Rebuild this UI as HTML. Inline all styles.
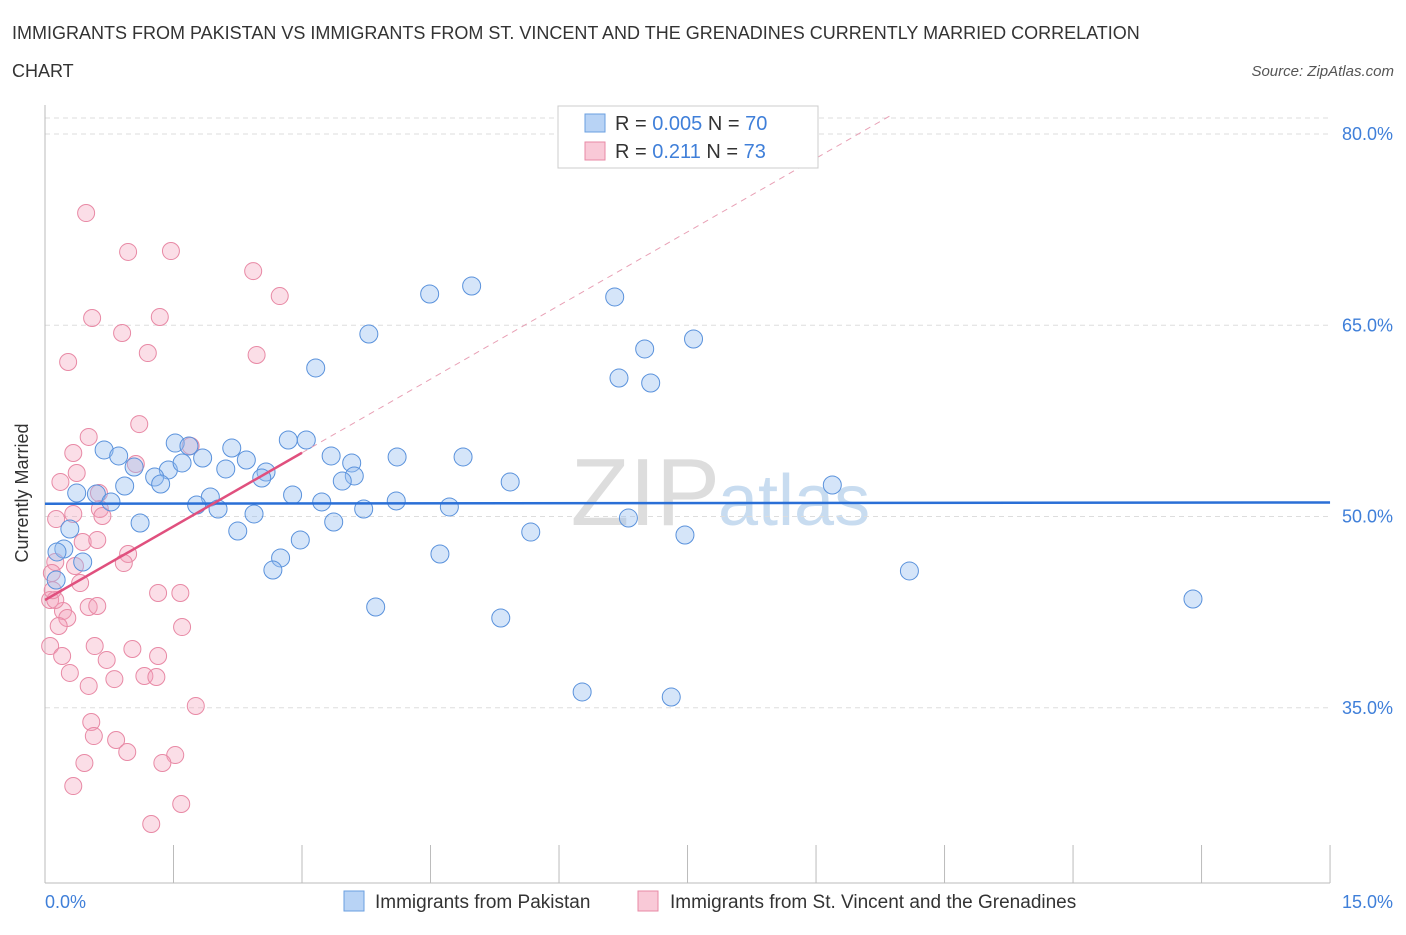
<!DOCTYPE html>
<html><head><meta charset="utf-8"><style>
body{margin:0;background:#fff;font-family:"Liberation Sans",sans-serif;}
svg text{font-family:"Liberation Sans",sans-serif;}
</style></head><body>
<svg id="chart" width="1406" height="930">
<text x="12" y="39" font-size="18" fill="#333">IMMIGRANTS FROM PAKISTAN VS IMMIGRANTS FROM ST. VINCENT AND THE GRENADINES CURRENTLY MARRIED CORRELATION</text>
<text x="12" y="77" font-size="18" fill="#333">CHART</text>
<text x="1394" y="76" font-size="15" fill="#555" font-style="italic" text-anchor="end">Source: ZipAtlas.com</text>
<text x="720" y="525" font-size="96" fill="#ddd" font-family="Liberation Serif" text-anchor="end">ZIP</text>
<text x="718" y="525" font-size="72" fill="#c8dcf0">atlas</text>
<g id="grid"></g>
<g id="axes"></g>
<g id="pts"></g>
<g id="trend"></g>
<text x="28" y="493" font-size="18" fill="#333" transform="rotate(-90 28 493)" text-anchor="middle">Currently Married</text>
<g>
<rect x="558" y="106" width="260" height="62" fill="#fff" stroke="#ccc"/>
<rect x="585" y="114" width="20" height="18" fill="#b8d3f5" stroke="#6a9fe0"/>
<text x="615" y="130" font-size="20" fill="#333">R = <tspan fill="#3f7fd9">0.005</tspan>   N = <tspan fill="#3f7fd9">70</tspan></text>
<rect x="585" y="142" width="20" height="18" fill="#f9c9d7" stroke="#e889a5"/>
<text x="615" y="158" font-size="20" fill="#333">R =   <tspan fill="#3f7fd9">0.211</tspan>   N = <tspan fill="#3f7fd9">73</tspan></text>
</g>
<g>
<rect x="344" y="891" width="20" height="20" fill="#b8d3f5" stroke="#6a9fe0"/>
<text x="375" y="908" font-size="19" fill="#333">Immigrants from Pakistan</text>
<rect x="638" y="891" width="20" height="20" fill="#f9c9d7" stroke="#e889a5"/>
<text x="670" y="908" font-size="19" fill="#333">Immigrants from St. Vincent and the Grenadines</text>
</g>
</svg>
<script>
const yTicks=[35,50,65,80];
const xTickLabels=["0.0%","15.0%"];
const blueX=[4.49,4.98,6.65,3.78,7.00,7.57,3.16,6.70,7.07,2.84,3.05,1.52,1.68,2.18,0.69,0.86,1.84,2.35,3.34,4.11,4.88,3.58,1.04,1.44,1.60,2.11,2.58,2.53,3.61,3.47,5.43,9.19,0.93,1.28,1.35,0.37,0.60,0.77,1.93,2.89,3.23,4.10,4.72,3.72,1.77,2.02,2.44,1.11,3.37,6.81,2.25,5.67,7.47,0.29,2.98,0.22,0.14,0.44,2.75,4.61,2.66,10.09,13.4,3.86,5.32,6.27,7.31,0.13];
const blueY=[67.45,68.08,67.22,64.31,63.14,63.92,61.65,60.86,60.47,56.0,56.0,55.76,55.53,55.37,55.22,54.75,54.59,54.43,54.75,54.67,54.67,54.2,53.88,53.65,54.2,53.73,53.49,53.02,53.18,52.78,52.71,52.47,52.39,53.1,52.55,51.84,51.76,51.14,51.53,51.69,51.14,51.22,50.75,50.59,50.9,50.59,50.2,49.49,49.57,49.88,48.86,48.78,48.55,49.02,48.16,47.45,47.22,46.43,46.75,47.06,45.8,45.73,43.53,42.9,42.04,36.24,35.84,45.02];
const pinkX=[0.48,0.97,1.47,2.43,2.74,0.55,1.34,0.90,1.20,2.47,0.27,1.10,0.51,1.70,0.33,1.06,0.37,0.18,0.63,0.64,0.33,0.67,0.13,0.44,0.61,0.97,0.92,0.12,0.35,0.41,0.08,1.32,1.58,0.06,0.51,0.61,0.21,0.26,0.16,1.60,0.58,0.06,1.02,0.20,1.32,0.72,0.29,0.81,1.16,1.30,0.51,1.76,0.54,0.57,0.83,0.96,1.52,1.37,0.46,0.33,1.59,1.24,0.12,0.09];
const pinkY=[73.8,70.75,70.82,69.25,67.29,65.57,65.65,64.39,62.82,62.67,62.12,57.25,56.24,55.53,54.98,54.12,53.41,52.71,51.84,50.59,50.2,50.04,49.8,48.0,48.16,47.06,46.35,46.43,46.12,44.78,45.57,44.0,44.0,43.45,42.9,42.98,42.59,42.04,41.41,41.33,39.84,39.84,39.61,39.06,39.06,38.75,37.73,37.25,37.49,37.41,36.71,35.14,33.88,32.78,32.47,31.53,31.29,30.67,30.67,28.86,27.45,25.88,43.45,44.22];
const blueTrend=[51.0,51.1];
const pinkTrend=[43.45,3.85];
const NS="http://www.w3.org/2000/svg";
const X=v=>45+v*85.67;
const Y=v=>134+(80-v)*12.75;
function mk(t,a,p){const e=document.createElementNS(NS,t);for(const k in a)e.setAttribute(k,a[k]);p.appendChild(e);return e;}
const grid=document.getElementById('grid'),axes=document.getElementById('axes');
mk('line',{x1:45,x2:1330,y1:118,y2:118,stroke:'#ddd','stroke-dasharray':'5,4'},grid);
yTicks.forEach(t=>{
 const l=mk('line',{x1:45,x2:1330,y1:Y(t),y2:Y(t),stroke:'#ddd','stroke-dasharray':'5,4'},grid);
 
 
 const tx=mk('text',{x:1393,y:Y(t)+6,'font-size':18,fill:'#3f7fd9','text-anchor':'end'},grid);
 tx.textContent=t.toFixed(1)+'%';
 
 
});
mk('line',{x1:45,x2:45,y1:105,y2:883,stroke:'#bbb'},axes);
mk('line',{x1:45,x2:1330,y1:883,y2:883,stroke:'#bbb'},axes);
for(let i=0;i<=10;i++){mk('line',{x1:X(i*1.5),x2:X(i*1.5),y1:845,y2:883,stroke:'#bbb'},axes);}
const xl0=mk('text',{x:45,y:908,'font-size':18,fill:'#3f7fd9'},axes);xl0.textContent=xTickLabels[0];


const xl1=mk('text',{x:1393,y:908,'font-size':18,fill:'#3f7fd9','text-anchor':'end'},axes);xl1.textContent=xTickLabels[1];


const pts=document.getElementById('pts');
pinkX.forEach((x,i)=>{const c=mk('circle',{cx:X(x),cy:Y(pinkY[i]),r:8.5,fill:'rgba(244,160,186,0.35)',stroke:'#e889a5','stroke-width':1},pts);
 
 });
blueX.forEach((x,i)=>{const c=mk('circle',{cx:X(x),cy:Y(blueY[i]),r:9,fill:'rgba(150,190,240,0.4)',stroke:'#5a92dc','stroke-width':1},pts);
 
 });
const tr=document.getElementById('trend');
const bl=mk('line',{x1:X(0),x2:X(15),y1:Y(blueTrend[0]),y2:Y(blueTrend[1]),stroke:'#2a6fd6','stroke-width':2.5},tr);


const pe=x=>pinkTrend[0]+pinkTrend[1]*x;
const pd=mk('line',{x1:X(3),x2:X(9.9),y1:Y(pe(3)),y2:Y(pe(9.9)),stroke:'#e8a0b5','stroke-width':1,'stroke-dasharray':'6,5'},tr);


const pl=mk('line',{x1:X(0),x2:X(3),y1:Y(pe(0)),y2:Y(pe(3)),stroke:'#e0507e','stroke-width':2.5},tr);


</script>
</body></html>
